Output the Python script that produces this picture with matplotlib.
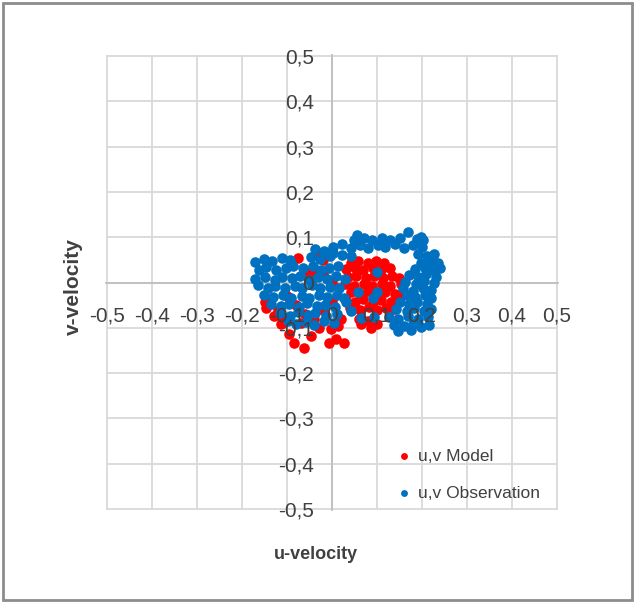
#!/usr/bin/env python3
"""u,v velocity scatter: model vs observation, Excel-style crossed axes."""
import matplotlib
matplotlib.use("Agg")
import matplotlib.pyplot as plt
from matplotlib.patches import Rectangle

plt.rcParams["font.family"] = ["Liberation Sans", "DejaVu Sans"]

# model points (u, v)
model_u = [0.041, 0.058, 0.079, 0.098, 0.116,
           0.032, 0.051, 0.069, 0.091, 0.109, 0.128,
           0.036, 0.054, 0.076, 0.094, 0.113, 0.134, 0.149,
           0.028, 0.049, 0.071, 0.088, 0.111, 0.129, 0.154,
           0.041, 0.062, 0.079, 0.101, 0.118, 0.141, 0.158,
           0.031, 0.052, 0.068, 0.092, 0.109, 0.132, 0.148,
           0.039, 0.061, 0.081, 0.099, 0.121, 0.138,
           -0.062, -0.084, -0.046, -0.095, -0.113, -0.15, -0.146, -0.007, 0.009,
           0.027, -0.002, 0.013, 0.06, 0.08, 0.10, 0.064, 0.086,
           -0.031, -0.075, -0.053, -0.02,
           -0.12, -0.10, -0.08, -0.06, -0.04, -0.02, 0.0, -0.13, -0.11, -0.07,
           -0.03, 0.02, 0.0, -0.02, -0.14, -0.035]
model_v = [0.044, 0.047, 0.043, 0.048, 0.044,
           0.029, 0.033, 0.027, 0.032, 0.028, 0.033,
           0.012, 0.015, 0.009, 0.014, 0.010, 0.015, 0.009,
           -0.004, -0.008, -0.003, -0.007, -0.004, -0.008, -0.003,
           -0.021, -0.025, -0.019, -0.024, -0.020, -0.025, -0.021,
           -0.039, -0.042, -0.037, -0.043, -0.038, -0.042, -0.037,
           -0.057, -0.060, -0.055, -0.061, -0.056, -0.059,
           -0.145, -0.134, -0.119, -0.114, -0.092, -0.042, -0.057, -0.134, -0.125,
           -0.134, -0.103, -0.097, -0.08, -0.086, -0.092, -0.092, -0.1,
           0.062, 0.055, 0.024, 0.05,
           -0.06, -0.03, -0.05, -0.07, -0.08, -0.06, -0.04, -0.075, -0.08, -0.09,
           -0.1, -0.08, 0.0, 0.02, -0.04, 0.018]

# observation points (u, v)
obs_u = [-0.172, -0.152, -0.133, -0.112, -0.094, -0.047, -0.026, -0.004,
         -0.163, -0.146, -0.124, -0.103, -0.086, -0.064, -0.043, -0.024, -0.006, 0.014,
         -0.171, -0.149, -0.128, -0.111, -0.089, -0.072, -0.051, -0.031, -0.011, 0.009, 0.028,
         -0.166, -0.143, -0.126, -0.104, -0.083, -0.066, -0.044, -0.027, -0.004, 0.016,
         -0.151, -0.132, -0.109, -0.091, -0.068, -0.052, -0.029, -0.012, 0.011, 0.026,
         -0.136, -0.113, -0.097, -0.074, -0.056, -0.033, -0.016, 0.006,
         -0.117, -0.093, -0.076, -0.054, -0.037, -0.013, 0.011,
         -0.098, -0.081, -0.058, -0.041, -0.019, 0.004,
         -0.038, -0.018, 0.002, 0.022, 0.041,
         0.003, 0.021, 0.042, 0.061, 0.079, 0.102, 0.118, 0.141, 0.159, 0.181, 0.199,
         0.049, 0.071, 0.088, 0.112, 0.129, 0.152, 0.188, 0.203,
         0.055, 0.168, 0.197,
         0.192, 0.211, 0.226,
         0.198, 0.218, 0.236,
         0.184, 0.206, 0.224, 0.241,
         0.171, 0.192, 0.209, 0.231,
         0.163, 0.186, 0.204, 0.226,
         0.158, 0.179, 0.202, 0.219,
         0.167, 0.184, 0.207, 0.221,
         0.151, 0.172, 0.188, 0.211,
         0.143, 0.166, 0.183, 0.204, 0.221,
         0.126, 0.147, 0.168, 0.191, 0.214,
         0.138, 0.161, 0.179, 0.198, 0.216,
         0.146, 0.176,
         0.101, 0.057, 0.09, 0.10, 0.031, 0.042, 0.064, 0.093]
obs_v = [0.046, 0.052, 0.047, 0.055, 0.049, 0.056, 0.051, 0.058,
         0.028, 0.034, 0.027, 0.033, 0.036, 0.031, 0.036, 0.027, 0.033, 0.037,
         0.008, 0.013, 0.006, 0.012, 0.009, 0.014, 0.006, 0.012, 0.007, 0.014, 0.008,
         -0.006, -0.012, -0.008, -0.013, -0.007, -0.012, -0.006, -0.013, -0.009, -0.012,
         -0.027, -0.033, -0.028, -0.034, -0.029, -0.035, -0.027, -0.032, -0.028, -0.034,
         -0.047, -0.053, -0.048, -0.054, -0.046, -0.052, -0.049, -0.055,
         -0.068, -0.073, -0.066, -0.072, -0.067, -0.074, -0.069,
         -0.085, -0.091, -0.087, -0.093, -0.086, -0.090,
         0.073, 0.069, 0.066, 0.061, 0.058,
         0.078, 0.084, 0.077, 0.083, 0.076, 0.082, 0.078, 0.084, 0.077, 0.083, 0.079,
         0.095, 0.099, 0.094, 0.098, 0.093, 0.099, 0.096, 0.094,
         0.105, 0.112, 0.101,
         0.062, 0.058, 0.063,
         0.044, 0.048, 0.043,
         0.029, 0.033, 0.027, 0.031,
         0.017, 0.012, 0.018, 0.013,
         0.002, -0.003, 0.003, -0.002,
         -0.013, -0.018, -0.012, -0.017,
         -0.028, -0.033, -0.027, -0.034,
         -0.043, -0.048, -0.042, -0.047,
         -0.058, -0.062, -0.057, -0.063, -0.059,
         -0.076, -0.081, -0.075, -0.080, -0.077,
         -0.093, -0.097, -0.092, -0.098, -0.094,
         -0.108, -0.106,
         0.024, -0.02, -0.035, -0.02, -0.042, -0.064, -0.079, -0.076]

ticks = [-0.5, -0.4, -0.3, -0.2, -0.1, 0.0, 0.1, 0.2, 0.3, 0.4, 0.5]
tick_labels = ["-0,5", "-0,4", "-0,3", "-0,2", "-0,1", "0", "0,1", "0,2", "0,3", "0,4", "0,5"]

TXT = "#404040"
GRID = "#d9d9d9"

fig = plt.figure(figsize=(6.35, 6.03), dpi=100)
ax = fig.add_axes([0.167, 0.154, 0.712, 0.755])

# gridlines drawn by hand so they stay under the points while tick labels sit on top
for t in ticks:
    ax.axvline(t, color=GRID, linewidth=1.3, zorder=0)
    ax.axhline(t, color=GRID, linewidth=1.3, zorder=0)

ax.scatter(model_u, model_v, s=58, color="#ff0000", linewidths=0,
           label="u,v Model", zorder=3)
ax.scatter(obs_u, obs_v, s=58, color="#0070c0", linewidths=0,
           label="u,v Observation", zorder=4)

ax.set_xlim(-0.503, 0.503)
ax.set_ylim(-0.503, 0.503)
ax.set_xticks(ticks)
ax.set_yticks(ticks)
ax.set_xticklabels(tick_labels)
ax.set_yticklabels(tick_labels)
ax.xaxis.set_zorder(6)
ax.yaxis.set_zorder(6)

# axes cross at zero
ax.spines["left"].set_position(("data", 0))
ax.spines["bottom"].set_position(("data", 0))
for sp in ("left", "bottom"):
    ax.spines[sp].set_color("#bfbfbf")
    ax.spines[sp].set_linewidth(1.3)
    ax.spines[sp].set_zorder(1)
for sp in ("top", "right"):
    ax.spines[sp].set_visible(False)
ax.tick_params(axis="both", length=0, labelsize=15, labelcolor=TXT)
ax.tick_params(axis="y", pad=13)
ax.tick_params(axis="x", pad=17)

fig.text(0.498, 0.08, "u-velocity", ha="center", va="center",
         fontsize=13, fontweight="bold", color=TXT)
fig.text(0.115, 0.525, "v-velocity", ha="center", va="center", rotation=90,
         fontsize=15, fontweight="bold", color=TXT)

ax.legend(loc="upper left", bbox_to_anchor=(0.644, 0.135), frameon=False,
          fontsize=12.5, labelcolor=TXT, markerscale=0.65, handlelength=0.8,
          handletextpad=0.4, labelspacing=1.25, borderaxespad=0, borderpad=0)

# outer chart border
fig.patches.append(Rectangle((0.005, 0.005), 0.99, 0.99, transform=fig.transFigure,
                             fill=False, edgecolor="#8c8c8c", linewidth=2))

fig.savefig("out.png", dpi=100)
